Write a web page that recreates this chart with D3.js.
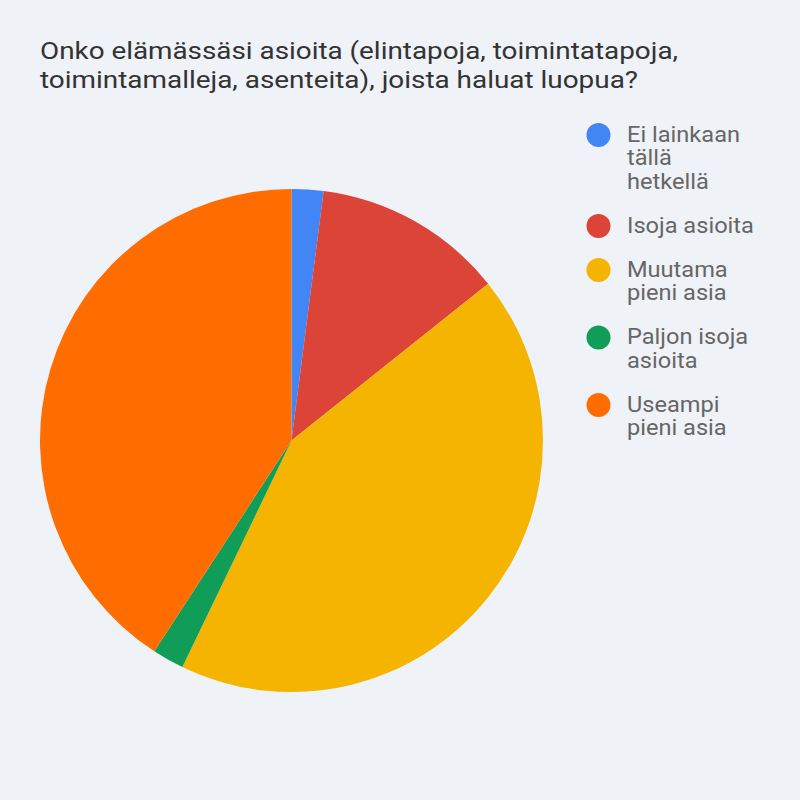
<!DOCTYPE html>
<html>
<head>
<meta charset="utf-8">
<script src="https://cdn.jsdelivr.net/npm/d3@7"></script>
<style>
  html, body { margin: 0; padding: 0; background: #eff2f7; }
  svg { display: block; }
</style>
</head>
<body>
<svg id="chart" width="800" height="800"></svg>
<script>
const titleLines = ["Onko elämässäsi asioita (elintapoja, toimintatapoja,", "toimintamalleja, asenteita), joista haluat luopua?"];
const categories = ["Ei lainkaan tällä hetkellä", "Isoja asioita", "Muutama pieni asia", "Paljon isoja asioita", "Useampi pieni asia"];
const legendLines = [["Ei lainkaan", "tällä", "hetkellä"], ["Isoja asioita"], ["Muutama", "pieni asia"], ["Paljon isoja", "asioita"], ["Useampi", "pieni asia"]];
const values = [1, 6, 21, 1, 20];
const colors = ["#4285f4", "#db4437", "#f4b400", "#0f9d58", "#ff6d01"];

const svg = d3.select("#chart");
svg.append("rect").attr("width", 800).attr("height", 800).attr("fill", "#eff2f7");

// Title (reference glyphs are slightly wider than Roboto, so stretch each line to its measured width)
const titleWidths = [638, 598];
const title = svg.append("text")
  .attr("font-family", "Roboto, sans-serif")
  .attr("font-size", 24)
  .attr("fill", "#333333");
title.selectAll("tspan").data(titleLines).join("tspan")
  .attr("x", 40)
  .attr("y", (d, i) => 59 + i * 28.5)
  .attr("textLength", (d, i) => titleWidths[i])
  .attr("lengthAdjust", "spacingAndGlyphs")
  .text(d => d);

// Pie
const cx = 291.5, cy = 440.5, r = 251.5;
const color = d3.scaleOrdinal().domain(categories).range(colors);
const pie = d3.pie().sort(null).value(d => d.v);
const arc = d3.arc().innerRadius(0).outerRadius(r);
const data = categories.map((c, i) => ({ c, v: values[i] }));

svg.append("g").attr("transform", `translate(${cx},${cy})`)
  .selectAll("path").data(pie(data)).join("path")
  .attr("d", arc)
  .attr("fill", d => color(d.data.c));

// Legend
const lineH = 23.5, itemGap = 44, textX = 627;
let y = 135;
const lg = svg.append("g");
const texts = [];
categories.forEach((c, i) => {
  const g = lg.append("g");
  g.append("circle").attr("cx", 598.5).attr("cy", y).attr("r", 12).attr("fill", color(c));
  const t = g.append("text")
    .attr("font-family", "Roboto, sans-serif")
    .attr("font-size", 22.5)
    .attr("fill", "#666666");
  legendLines[i].forEach((ln, j) => {
    t.append("tspan").attr("x", textX).attr("y", y + 7 + j * lineH).text(ln);
  });
  texts.push(t);
  y += itemGap + (legendLines[i].length - 1) * lineH;
});
// horizontal stretch factor from "Isoja asioita" (reference width ~127px)
const ref = texts[1].node().getComputedTextLength();
const sx = ref > 0 ? 127 / ref : 1;
texts.forEach(t => t.attr("transform", `translate(${textX},0) scale(${sx},1) translate(${-textX},0)`));
</script>
</body>
</html>
